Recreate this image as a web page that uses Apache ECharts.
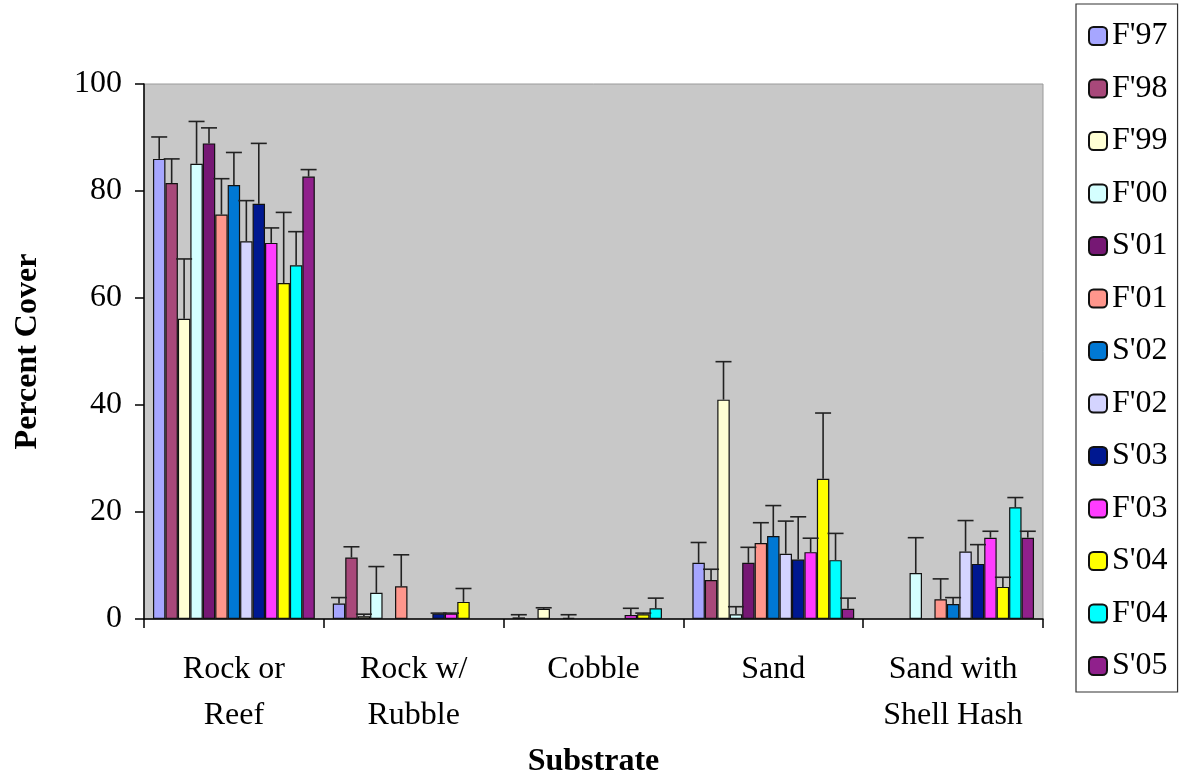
<!DOCTYPE html>
<html>
<head>
<meta charset="utf-8">
<script src="https://cdn.jsdelivr.net/npm/echarts@6/dist/echarts.min.js"></script>
<style>html,body{margin:0;padding:0;background:#fff;}#c{width:1188px;height:780px;}</style>
</head>
<body>
<div id="c"></div>
<script>
const categories = ['Rock or\nReef', 'Rock w/\nRubble', 'Cobble', 'Sand', 'Sand with\nShell Hash'];
const seriesNames = ["F'97", "F'98", "F'99", "F'00", "S'01", "F'01", "S'02", "F'02", "S'03", "F'03", "S'04", "F'04", "S'05"];
const seriesColors = ['#A6A6FF', '#A8487A', '#FFFFD4', '#D4FFFF', '#761874', '#FF968C', '#0078D4', '#D4D4FF', '#001890', '#FF3CFF', '#FFFF00', '#00FFFF', '#90208C'];

// mean percent cover per substrate (one array per survey)
const F97 = [86.0, 2.9, 0.3, 10.5, null];
const F98 = [81.5, 11.5, null, 7.3, null];
const F99 = [56.1, 0.5, 1.9, 41.0, null];
const F00 = [85.1, 4.9, null, 0.9, 8.6];
const S01 = [88.9, null, 0.2, 10.5, null];
const F01 = [75.6, 6.1, null, 14.2, 3.7];
const S02 = [81.1, null, null, 15.5, 2.8];
const F02 = [70.6, null, null, 12.2, 12.6];
const S03 = [77.6, 1.0, null, 11.1, 10.3];
const F03 = [70.3, 1.0, 0.75, 12.5, 15.2];
const S04 = [62.8, 3.2, 0.9, 26.2, 6.0];
const F04 = [66.1, null, 2.0, 11.0, 20.9];
const S05 = [82.7, null, null, 1.9, 15.2];

// upper error (standard error) per substrate
const F97err = [4.1, 1.1, 0.5, 3.8, null];
const F98err = [4.5, 2.0, null, 2.0, null];
const F99err = [11.2, 0.4, 0.2, 7.1, null];
const F00err = [7.9, 4.9, null, 1.4, 6.6];
const S01err = [2.9, null, 0.6, 2.9, null];
const F01err = [6.7, 5.9, null, 3.8, 3.8];
const S02err = [6.1, null, null, 5.7, 1.2];
const F02err = [7.6, null, null, 6.1, 5.8];
const S03err = [11.3, 0.1, null, 8.0, 3.6];
const F03err = [2.8, 0.1, 1.25, 2.6, 1.2];
const S04err = [13.2, 2.5, 0.2, 12.3, 1.8];
const F04err = [6.3, null, 1.9, 5.0, 1.8];
const S05err = [1.3, null, null, 2.0, 1.2];

const yTicks = [0, 20, 40, 60, 80, 100];

const values = [F97, F98, F99, F00, S01, F01, S02, F02, S03, F03, S04, F04, S05];
const errors = [F97err, F98err, F99err, F00err, S01err, F01err, S02err, F02err, S03err, F03err, S04err, F04err, S05err];

const FONT = 'Liberation Serif';
const nS = seriesNames.length;
const catGap = 0.10;

const barSeries = seriesNames.map((name, i) => ({
  name: name,
  type: 'bar',
  data: values[i],
  barGap: '0%',
  barCategoryGap: (catGap * 100) + '%',
  itemStyle: { color: seriesColors[i], borderColor: '#111', borderWidth: 1.2 },
  z: 2
}));

const errData = [];
values.forEach((arr, si) => {
  arr.forEach((v, ci) => {
    const e = errors[si][ci];
    if (v != null && e != null) errData.push([ci, si, v, e]);
  });
});

const errSeries = {
  type: 'custom',
  name: 'err',
  data: errData,
  encode: { x: 0, y: 2 },
  z: 5,
  silent: true,
  renderItem: function (params, api) {
    const ci = api.value(0), si = api.value(1), v = api.value(2), e = api.value(3);
    const band = api.size([1, 0])[0];
    const bw = band * (1 - catGap) / nS;
    const cx = api.coord([ci, 0])[0] + (si - (nS - 1) / 2) * bw;
    const y0 = api.coord([ci, v])[1];
    const y1 = api.coord([ci, v + e])[1];
    const st = { stroke: '#222', lineWidth: 1.6 };
    return {
      type: 'group',
      children: [
        { type: 'line', shape: { x1: cx, y1: y0, x2: cx, y2: y1 }, style: st },
        { type: 'line', shape: { x1: cx - 8, y1: y1, x2: cx + 8, y2: y1 }, style: st }
      ]
    };
  }
};

const chart = echarts.init(document.getElementById('c'), null, { renderer: 'canvas' });
chart.setOption({
  backgroundColor: '#fff',
  animation: false,
  textStyle: { fontFamily: FONT },
  legend: {
    data: seriesNames,
    orient: 'vertical',
    left: 1076,
    top: 4,
    padding: [14, 10, 8, 12],
    itemWidth: 18,
    itemHeight: 18,
    itemGap: 16.5,
    borderColor: '#333',
    borderWidth: 1.2,
    textStyle: { fontFamily: FONT, fontSize: 32, color: '#000', lineHeight: 36 }
  },
  grid: {
    left: 144, right: 145, top: 84, bottom: 161,
    containLabel: false,
    outerBoundsMode: 'none',
    show: true, backgroundColor: '#C8C8C8', borderColor: '#9a9a9a', borderWidth: 1
  },
  xAxis: {
    type: 'category',
    data: categories,
    name: 'Substrate',
    nameLocation: 'middle',
    nameGap: 127,
    nameTextStyle: { fontFamily: FONT, fontSize: 32, fontWeight: 'bold', color: '#000' },
    axisLine: { lineStyle: { color: '#000', width: 1.5 } },
    axisTick: { show: true, length: 9, interval: 0, lineStyle: { color: '#000', width: 1.5 } },
    axisLabel: { interval: 0, fontFamily: FONT, fontSize: 32, color: '#000', lineHeight: 46, margin: 28 }
  },
  yAxis: {
    type: 'value',
    min: yTicks[0],
    max: yTicks[yTicks.length - 1],
    interval: yTicks[1] - yTicks[0],
    name: 'Percent Cover',
    nameLocation: 'middle',
    nameGap: 100,
    nameTextStyle: { fontFamily: FONT, fontSize: 32, fontWeight: 'bold', color: '#000' },
    axisLine: { show: true, lineStyle: { color: '#000', width: 1.5 } },
    axisTick: { show: true, length: 9, lineStyle: { color: '#000', width: 1.5 } },
    axisLabel: { fontFamily: FONT, fontSize: 32, color: '#000', margin: 22 },
    splitLine: { show: false }
  },
  series: barSeries.concat([errSeries])
});
</script>
</body>
</html>
